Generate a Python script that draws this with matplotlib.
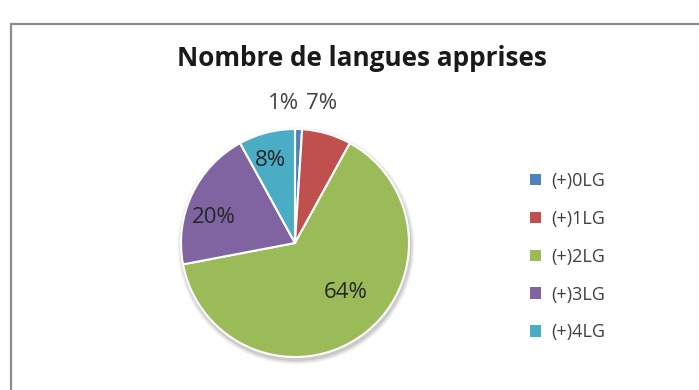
import numpy as np
import matplotlib
matplotlib.use("Agg")
import matplotlib.pyplot as plt
from matplotlib.patches import Rectangle, Circle, Patch

# Languages learned, share of respondents (%)
categories = ["(+)0LG", "(+)1LG", "(+)2LG", "(+)3LG", "(+)4LG"]
shares = [1, 7, 64, 20, 8]
colors = ["#4F81BD", "#C0504D", "#9BBB59", "#8064A2", "#4BACC6"]
title = "Nombre de langues apprises"

# label radius (in pie radii) and angle nudge (deg) for each slice
label_dist = [1.23, 1.25, 0.62, 0.75, 0.76]
label_nudge = [6.7, 5.3, 10.1, 7.6, 2.4]
label_color = ["#404040", "#404040", "#262626", "#262626", "#262626"]

plt.rcParams["font.family"] = ["Open Sans", "DejaVu Sans"]

W, H = 699, 390
fig = plt.figure(figsize=(W / 100, H / 100), dpi=100)
fig.patch.set_facecolor("white")

# chart area border
fig.add_artist(Rectangle((11 / W, -0.02), 1.0, (H - 16) / H,
                         transform=fig.transFigure, fill=False,
                         edgecolor="#8c8c8c", linewidth=1.6))

# pie axes: centre (295, 243) px, radius 114 px
cx, cy, r = 295, 243, 114
side = 3 * r
ax = fig.add_axes([(cx - side / 2) / W, (H - cy - side / 2) / H, side / W, side / H])

wedges, _ = ax.pie(shares, colors=colors, startangle=90, counterclock=False,
                   radius=1.0, wedgeprops=dict(edgecolor="white", linewidth=1.5))
for w in wedges:
    w.set_zorder(2)

ax.set_xlim(-1.5, 1.5)
ax.set_ylim(-1.5, 1.5)
ax.set_aspect("equal")
ax.axis("off")

# soft shadow beneath the pie
for i, a in enumerate([0.04, 0.05, 0.06, 0.07]):
    ax.add_patch(Circle((0.01, -0.025), 1.0 + 0.01 * (4 - i), color="black",
                        alpha=a, zorder=0, linewidth=0))

for w, pct, d, nudge, c in zip(wedges, shares, label_dist, label_nudge, label_color):
    mid = np.deg2rad((w.theta1 + w.theta2) / 2 + nudge)
    ax.text(d * np.cos(mid), d * np.sin(mid), f"{pct}%", ha="center", va="center",
            fontsize=16, color=c, zorder=3)

fig.text(362 / W, 1 - 66 / H, title, ha="center", va="baseline",
         fontsize=18.8, fontweight="bold", color="#1a1a1a")

handles = [Patch(facecolor=c, edgecolor="none") for c in colors]
fig.legend(handles, categories, loc="upper left", bbox_to_anchor=(530 / W, 1 - 172 / H),
           frameon=False, fontsize=13, labelcolor="#404040",
           borderpad=0, borderaxespad=0,
           handlelength=0.6, handleheight=0.6, handletextpad=0.55,
           labelspacing=1.1)

fig.savefig("out.png", dpi=100)
